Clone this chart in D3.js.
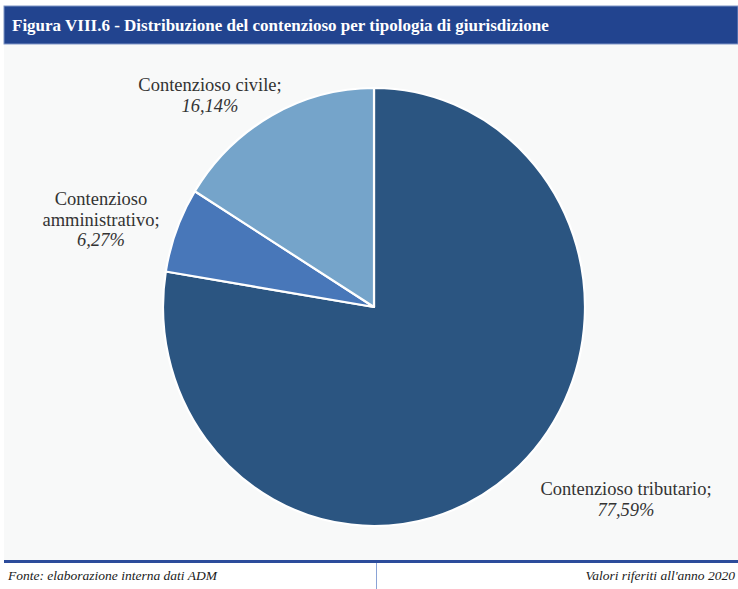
<!DOCTYPE html>
<html lang="it">
<head>
<meta charset="utf-8">
<script src="https://cdn.jsdelivr.net/npm/d3@7"></script>
<style>
  html, body { margin: 0; padding: 0; background: #ffffff; }
  svg { display: block; }
</style>
</head>
<body>
<svg id="chart" width="738" height="589"></svg>
<script>
// Contenzioso ADM per tipologia di giurisdizione (anno 2020)
const categories = ["Contenzioso tributario", "Contenzioso amministrativo", "Contenzioso civile"];
const shares = [77.59, 6.27, 16.14];
const sliceColors = ["#2b5581", "#4877b9", "#75a4ca"];

const titleText = "Figura VIII.6 - Distribuzione del contenzioso per tipologia di giurisdizione";
const sourceText = "Fonte: elaborazione interna dati ADM";
const noteText = "Valori riferiti all'anno 2020";

const W = 738, H = 589;
const svg = d3.select("#chart");
const serif = "'Liberation Serif', 'DejaVu Serif', serif";

// Italian number format: decimal comma
const it = d3.formatLocale({ decimal: ",", thousands: ".", grouping: [3], currency: ["€", ""] });
const fmtPct = v => it.format(".2f")(v) + "%";

// panel background
svg.append("rect").attr("x", 4).attr("y", 44).attr("width", W - 4).attr("height", 517)
  .attr("fill", "#f8f9f9");

// title band
svg.append("rect").attr("x", 4).attr("y", 6).attr("width", W - 4).attr("height", 38)
  .attr("fill", "#22448f").attr("stroke", "#7f95c6").attr("stroke-width", 1);
svg.append("text").attr("x", 12).attr("y", 31)
  .attr("font-family", serif).attr("font-size", 17).attr("font-weight", "bold")
  .attr("fill", "#ffffff").text(titleText);

// footer rule and divider
svg.append("rect").attr("x", 4).attr("y", 560).attr("width", W - 4).attr("height", 3)
  .attr("fill", "#2c4c9b");
svg.append("line").attr("x1", 376.5).attr("x2", 376.5).attr("y1", 563).attr("y2", H)
  .attr("stroke", "#8aa3d6").attr("stroke-width", 1);
svg.append("text").attr("x", 8).attr("y", 580)
  .attr("font-family", serif).attr("font-size", 13.5).attr("font-style", "italic")
  .attr("fill", "#1a1a1a").text(sourceText);
svg.append("text").attr("x", 735).attr("y", 580).attr("text-anchor", "end")
  .attr("font-family", serif).attr("font-size", 13.5).attr("font-style", "italic")
  .attr("fill", "#1a1a1a").text(noteText);

// pie (slightly taller than wide)
const cx = 374, cy = 307, ry = 219, rx = 211;
const pie = d3.pie().sort(null).value(d => d)(shares);
const arc = d3.arc().innerRadius(0).outerRadius(ry);

const g = svg.append("g").attr("transform", `translate(${cx},${cy}) scale(${rx / ry},1)`);
g.selectAll("path").data(pie).join("path")
  .attr("d", arc)
  .attr("fill", (d, i) => sliceColors[i])
  .attr("stroke", "#ffffff").attr("stroke-width", 2.2)
  .attr("vector-effect", "non-scaling-stroke")
  .attr("stroke-linejoin", "round");

// data labels
const labelLayout = [
  { x: 626, y: 495, lines: ["Contenzioso tributario;"] },
  { x: 101, y: 205, lines: ["Contenzioso", "amministrativo;"] },
  { x: 210, y: 91, lines: ["Contenzioso civile;"] }
];
const lineH = 20.5;
labelLayout.forEach((L, i) => {
  const t = svg.append("text").attr("text-anchor", "middle")
    .attr("font-family", serif).attr("font-size", 18.5).attr("fill", "#333333");
  L.lines.forEach((s, k) => {
    t.append("tspan").attr("x", L.x).attr("y", L.y + k * lineH).text(s);
  });
  t.append("tspan").attr("x", L.x).attr("y", L.y + L.lines.length * lineH)
    .attr("font-style", "italic").text(fmtPct(shares[i]));
});
</script>
</body>
</html>
